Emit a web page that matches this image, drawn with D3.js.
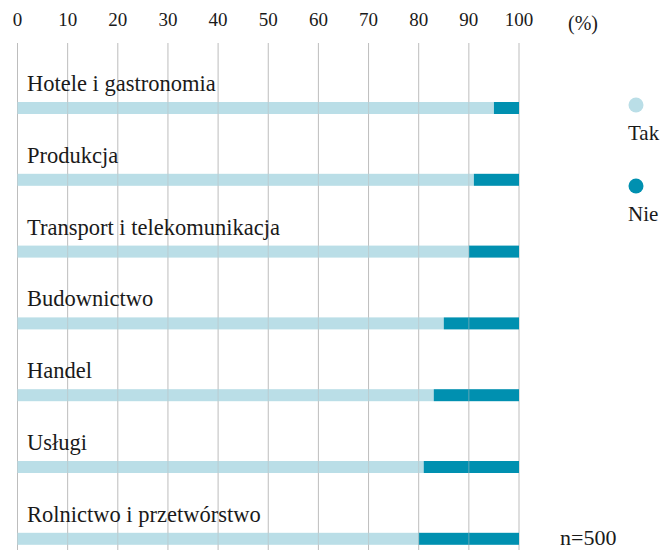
<!DOCTYPE html>
<html lang="pl">
<head>
<meta charset="utf-8">
<script src="https://cdnjs.cloudflare.com/ajax/libs/d3/7.8.5/d3.min.js"></script>
<style>
  body { margin: 0; background: #fff; }
  svg text { font-family: "Liberation Serif", "DejaVu Serif", serif; fill: #1a1a1a; }
</style>
</head>
<body>
<svg id="chart"></svg>
<script>
var width = 663, height = 550;

// data (share of answers, %)
var categories = ["Hotele i gastronomia", "Produkcja", "Transport i telekomunikacja",
                  "Budownictwo", "Handel", "Usługi", "Rolnictwo i przetwórstwo"];
var tak = [95, 91, 90, 85, 83, 81, 80];
var nie = [5, 9, 10, 15, 17, 19, 20];
var tickValues = [0, 10, 20, 30, 40, 50, 60, 70, 80, 90, 100];
var seriesNames = ["Tak", "Nie"];
var colors = ["#badee7", "#0090b0"];

var svg = d3.select("#chart").attr("width", width).attr("height", height);

var x = d3.scaleLinear().domain([0, 100]).range([17.5, 519]);
var y = d3.scaleBand().domain(categories).range([66, 568.6]).paddingInner(0).paddingOuter(0);

// gridlines
svg.append("g").selectAll("line")
  .data(tickValues)
  .enter().append("line")
  .attr("x1", function(d) { return x(d); })
  .attr("x2", function(d) { return x(d); })
  .attr("y1", 43)
  .attr("y2", height)
  .attr("stroke", "#bdbdbd")
  .attr("stroke-width", 1);

// top tick labels
svg.append("g").selectAll("text")
  .data(tickValues)
  .enter().append("text")
  .attr("x", function(d) { return x(d); })
  .attr("y", 26)
  .attr("text-anchor", "middle")
  .attr("font-size", 19)
  .text(function(d) { return d; });

svg.append("text")
  .attr("x", 583).attr("y", 30)
  .attr("text-anchor", "middle")
  .attr("font-size", 20)
  .text("(%)");

var barH = 12;

// stacked bars
var rows = svg.append("g").selectAll("g")
  .data(categories)
  .enter().append("g")
  .attr("transform", function(d) { return "translate(0," + (y(d) + 36) + ")"; });

rows.append("rect")
  .attr("x", x(0))
  .attr("y", 0)
  .attr("height", barH)
  .attr("width", function(d, i) { return x(tak[i]) - x(0); })
  .attr("fill", colors[0]);

rows.append("rect")
  .attr("x", function(d, i) { return x(tak[i]); })
  .attr("y", 0)
  .attr("height", barH)
  .attr("width", function(d, i) { return x(tak[i] + nie[i]) - x(tak[i]); })
  .attr("fill", colors[1]);

// faint gridlines over the bars, as in the original
rows.selectAll("line")
  .data(tickValues.slice(1, -1))
  .enter().append("line")
  .attr("x1", function(d) { return x(d); })
  .attr("x2", function(d) { return x(d); })
  .attr("y1", 0).attr("y2", barH)
  .attr("stroke", "#bdbdbd")
  .attr("stroke-opacity", 0.5);

rows.append("text")
  .attr("x", 27)
  .attr("y", -11)
  .attr("font-size", 22.5)
  .text(function(d) { return d; });

// legend
var legend = svg.append("g").selectAll("g")
  .data(seriesNames)
  .enter().append("g")
  .attr("transform", function(d, i) { return "translate(636," + (105 + i * 81) + ")"; });

legend.append("circle").attr("r", 7.5).attr("fill", function(d, i) { return colors[i]; });
legend.append("text")
  .attr("x", -8).attr("y", 35)
  .attr("font-size", 21)
  .text(function(d) { return d; });

svg.append("text")
  .attr("x", 560).attr("y", 545)
  .attr("font-size", 22)
  .text("n=500");
</script>
</body>
</html>
